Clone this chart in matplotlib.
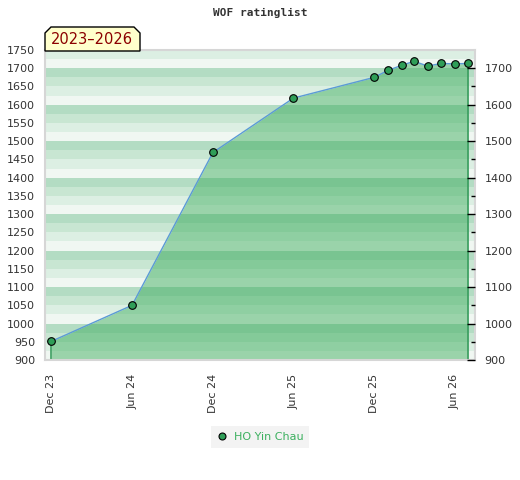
"""WOF ratinglist - rating history of HO Yin Chau."""

import matplotlib
matplotlib.use("Agg")
import matplotlib.pyplot as plt
import matplotlib.dates as mdates
from matplotlib.patches import Polygon
from matplotlib.lines import Line2D
from matplotlib.ticker import MultipleLocator
import pandas as pd

# rating list dates and ratings
dates = ["2023-12-01", "2024-06-01", "2024-12-01", "2025-06-01",
         "2025-12-01", "2026-01-01", "2026-02-01", "2026-03-01",
         "2026-04-01", "2026-05-01", "2026-06-01", "2026-07-01"]
ratings = [951, 1050, 1469, 1618, 1675, 1694, 1708, 1719,
           1706, 1713, 1712, 1713]

player = "HO Yin Chau"
period = "2023\u20132026"
title = "WOF ratinglist"

x_ticks = ["2023-12-01", "2024-06-01", "2024-12-01",
           "2025-06-01", "2025-12-01", "2026-06-01"]
x_range = ["2023-11-17", "2026-07-17"]
y_range = [900, 1750]
right_ticks = [900, 1000, 1100, 1200, 1300, 1400, 1500, 1600, 1700]
right_minor = [950, 1050, 1150, 1250, 1350, 1450, 1550, 1650]

# colours
STRIPES = ["#dcefe3", "#f0f7f2", "#b3dcc3", "#c8e6d2"]  # from the top down
FILL = "#33a854"
EDGE = "#3a9e5f"
LINE = "#5b9bd5"
MARKER = "#2f9e58"
LEGEND_TXT = "#3cb05f"
TXT = "#333333"

W, H = 520, 480


def px(x, y):
    """pixel coords (top-left origin) to figure fraction"""
    return x / W, 1 - y / H


def main():
    x = pd.to_datetime(dates)
    fig = plt.figure(figsize=(W / 100, H / 100), dpi=100)
    left, top = px(45, 50)
    right, bottom = px(475, 360)
    ax = fig.add_axes([left, bottom, right - left, top - bottom])

    ax.set_xlim(pd.to_datetime(x_range))
    ax.set_ylim(y_range)

    # striped background, 25 point bands
    lo, hi = y_range
    k = 0
    y = hi
    while y > lo:
        ax.axhspan(y - 25, y, color=STRIPES[k % 4], lw=0, zorder=0)
        y -= 25
        k += 1

    ax.fill_between(x, ratings, lo, color=FILL, alpha=0.45, lw=0, zorder=1)
    ax.vlines([x[0], x[-1]], lo, [ratings[0], ratings[-1]],
              color=EDGE, lw=1.2, zorder=2)
    ax.plot(x, ratings, color=LINE, lw=1, zorder=3)
    ax.plot(x, ratings, ls="none", marker="o", ms=5.5, mfc=MARKER,
            mec="black", mew=0.8, zorder=4)

    for s in ax.spines.values():
        s.set_color("#d6d6d6")
        s.set_linewidth(1.5)

    ax.yaxis.set_major_locator(MultipleLocator(50))
    ax.tick_params(axis="y", length=0, labelsize=8, labelcolor=TXT, pad=7)
    ax.set_xticks(pd.to_datetime(x_ticks))
    ax.xaxis.set_major_formatter(mdates.DateFormatter("%b %y"))
    ax.tick_params(axis="x", length=0, labelsize=8, labelcolor=TXT,
                   labelrotation=90, pad=10)

    ax2 = ax.twinx()
    ax2.set_ylim(y_range)
    ax2.set_yticks(right_ticks)
    ax2.set_yticks(right_minor, minor=True)
    ax2.tick_params(axis="y", which="major", direction="in", length=6,
                    width=1, labelsize=8, labelcolor=TXT, pad=7)
    ax2.tick_params(axis="y", which="minor", direction="in", length=3, width=1)
    for s in ax2.spines.values():
        s.set_visible(False)

    fig.text(0.5, 1 - 13 / H, title, ha="center", va="center",
             family="DejaVu Sans Mono", weight="bold", size=8, color=TXT)

    # period label box
    box = [px(45, 51), px(45, 33), px(51, 27), px(134, 27),
           px(140, 33), px(140, 51)]
    fig.patches.append(Polygon(box, closed=True, transform=fig.transFigure,
                               fc="#ffffcc", ec="black", lw=1, zorder=5))
    bx, by = px(92, 40)
    fig.text(bx, by, period, ha="center", va="center", size=10.5,
             color="#8b0000", zorder=6)

    handle = Line2D([], [], ls="none", marker="o", ms=5, mfc=MARKER,
                    mec="black", mew=0.8)
    lx, ly = px(260, 437)
    leg = fig.legend([handle], [player], loc="center", bbox_to_anchor=(lx, ly),
                     frameon=True, fancybox=False, fontsize=8,
                     handlelength=1, handletextpad=0.5, borderpad=0.5,
                     labelcolor=LEGEND_TXT)
    leg.get_frame().set_facecolor("#f0f0f0")
    leg.get_frame().set_edgecolor("none")

    fig.savefig("out.png", dpi=100)


if __name__ == "__main__":
    main()
